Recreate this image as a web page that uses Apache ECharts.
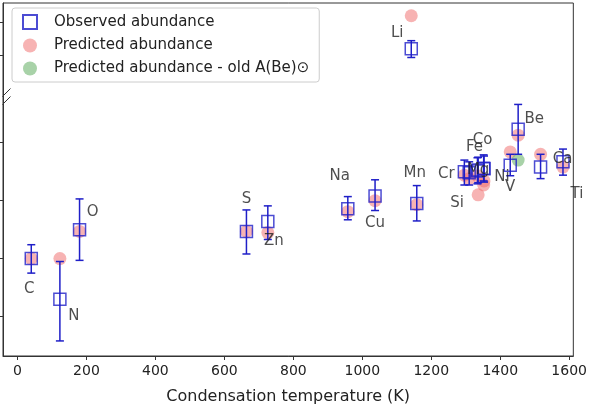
<!DOCTYPE html><html><head><meta charset="utf-8"><script src="https://cdn.jsdelivr.net/npm/echarts@6/dist/echarts.min.js"></script></head><body style="margin:0"><div id="c" style="width:590px;height:410px"></div><script>
const elements=['C','N','O','S','Zn','Na','Cu','Mn','Li','Cr','Si','Fe','Mg','Co','Ni','V','Be','Ca','Ti'];
const tc=[40,123,180,664,726,958,1037,1158,1142,1296,1310,1334,1336,1352,1353,1429,1452,1517,1582];
const obs=[-0.201,-0.271,-0.151,-0.154,-0.137,-0.115,-0.093,-0.106,0.161,-0.051,-0.053,-0.050,-0.048,-0.045,-0.046,-0.040,0.022,-0.043,-0.034];
const errLo=[-0.226,-0.343,-0.204,-0.193,-0.168,-0.134,-0.118,-0.136,0.146,-0.074,-0.074,-0.072,-0.070,-0.067,-0.069,-0.058,-0.021,-0.063,-0.057];
const errHi=[-0.177,-0.206,-0.098,-0.117,-0.110,-0.094,-0.065,-0.075,0.175,-0.031,-0.034,-0.027,-0.026,-0.022,-0.024,-0.021,0.065,-0.021,-0.012];
const pred=[-0.201,-0.201,-0.154,-0.154,-0.156,-0.120,-0.101,-0.108,0.218,-0.057,-0.063,-0.058,-0.091,-0.074,-0.067,-0.017,0.012,-0.021,-0.043];
const oldBe=[1452,-0.031];
const xTicks=[0,200,400,600,800,1000,1200,1400,1600];
const labelOff={C:[-2,30],N:[14,17],O:[13,-18],S:[0,-32],Zn:[6,20],Na:[-8,-33],Cu:[0,27],Mn:[-2,-30],Li:[-14,-16],Cr:[-18,2],Si:[-12,30],Fe:[-3,-24],Co:[-1,-28],Ni:[18,8],V:[0,22],Be:[16,-10],Ca:[22,-8],Ti:[14,32]};
const blue='#1f1fc8';
const c=echarts.init(document.getElementById('c'));
c.setOption({
 animation:false,
 grid:{left:3,right:0,top:3,bottom:50,show:true,borderColor:'#333',borderWidth:1},
 xAxis:{type:'value',min:-42,max:1612,name:'Condensation temperature (K)',nameLocation:'middle',nameGap:33,nameTextStyle:{fontSize:16,color:'#222',fontFamily:'DejaVu Sans'},
  axisLine:{onZero:false,lineStyle:{color:'#333'}},splitLine:{show:false},
  axisTick:{customValues:xTicks,length:4,lineStyle:{color:'#333'}},
  axisLabel:{customValues:xTicks,formatter:v=>String(v),fontSize:14,color:'#222',fontFamily:'DejaVu Sans',margin:8}},
 yAxis:{type:'value',min:-0.369,max:0.24,splitLine:{show:false},axisLine:{onZero:false,lineStyle:{color:'#333'}},
  axisTick:{customValues:[-0.3,-0.2,-0.1,0,0.149,0.206],length:4,lineStyle:{color:'#333'}},axisLabel:{show:false}},
 legend:{left:12,top:8,orient:'vertical',itemGap:8,itemWidth:14,itemHeight:14,padding:[6,10,6,10],backgroundColor:'rgba(255,255,255,0.9)',borderColor:'#ccc',borderWidth:1,borderRadius:3,
  textStyle:{fontSize:15,color:'#222',fontFamily:'DejaVu Sans',padding:[0,0,0,12]},
  data:['Observed abundance','Predicted abundance','Predicted abundance - old A(Be)\u2299']},
 graphic:[{type:'group',left:0,top:86,children:[{type:'line',shape:{x1:0,y1:5,x2:8,y2:-3},style:{stroke:'#333',lineWidth:1}},{type:'line',shape:{x1:0,y1:13,x2:8,y2:5},style:{stroke:'#333',lineWidth:1}}]}],
 series:[
  {name:'Predicted abundance',type:'scatter',symbolSize:13,itemStyle:{color:'rgba(240,110,110,0.65)'},data:tc.map((x,i)=>[x,pred[i]]),z:2},
  {name:'Predicted abundance - old A(Be)\u2299',type:'scatter',symbolSize:13,itemStyle:{color:'rgba(110,180,110,0.75)'},data:[oldBe],z:2},
  {name:'Errbars',type:'custom',z:3,data:tc.map((x,i)=>[x,errLo[i],errHi[i]]),
   renderItem:(p,api)=>{const a=api.coord([api.value(0),api.value(1)]),b=api.coord([api.value(0),api.value(2)]);const s={stroke:blue,lineWidth:1.5};
    return {type:'group',children:[{type:'line',shape:{x1:a[0],y1:a[1],x2:b[0],y2:b[1]},style:s},{type:'line',shape:{x1:a[0]-4,y1:a[1],x2:a[0]+4,y2:a[1]},style:s},{type:'line',shape:{x1:b[0]-4,y1:b[1],x2:b[0]+4,y2:b[1]},style:s}]};}},
  {name:'Observed abundance',type:'scatter',symbol:'rect',symbolSize:12,z:4,itemStyle:{color:'rgba(255,255,255,0)',borderColor:blue,borderWidth:1.5},
   data:tc.map((x,i)=>({value:[x,obs[i]],label:{show:true,formatter:elements[i],position:'inside',offset:labelOff[elements[i]],fontSize:15,color:'#222',fontFamily:'DejaVu Sans'}}))}
 ]});
</script></body></html>
